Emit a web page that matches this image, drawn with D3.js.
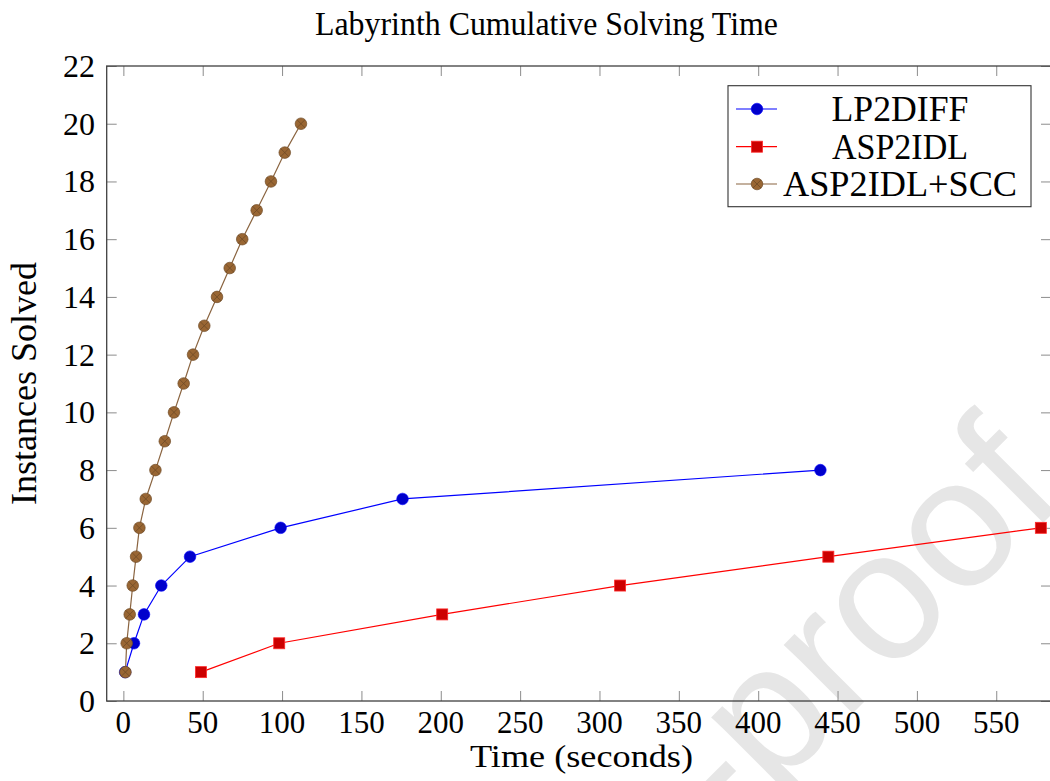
<!DOCTYPE html>
<html>
<head>
<meta charset="utf-8">
<script src="https://cdn.jsdelivr.net/npm/d3@7"></script>
<style>
  html, body { margin: 0; padding: 0; background: #fff; }
  svg { display: block; }
  text { font-family: "Liberation Serif", "DejaVu Serif", serif; fill: #000; }
</style>
</head>
<body>
<div id="chart"></div>
<script>
// ---------------- data ----------------
const title = "Labyrinth Cumulative Solving Time";
const xLabel = "Time (seconds)";
const yLabel = "Instances Solved";
const xTicks = [0, 50, 100, 150, 200, 250, 300, 350, 400, 450, 500, 550];
const yTicks = [0, 2, 4, 6, 8, 10, 12, 14, 16, 18, 20, 22];
const xDomain = [-10.5, 584.5];
const yDomain = [0, 22];

const seriesNames = ["LP2DIFF", "ASP2IDL", "ASP2IDL+SCC"];
const lp2diffTime = [1.1, 6.7, 13.0, 23.9, 42.0, 99.1, 175.9, 439.2];
const lp2diffSolved = [1, 2, 3, 4, 5, 6, 7, 8];
const asp2idlTime = [48.9, 98.2, 200.9, 313.0, 444.2, 578.1];
const asp2idlSolved = [1, 2, 3, 4, 5, 6];
const sccTime = [1.3, 2.1, 4.0, 5.9, 8.0, 10.1, 14.1, 20.2, 26.1, 31.9,
                 38.0, 43.9, 51.0, 59.0, 67.0, 74.9, 84.0, 93.0, 101.7, 111.9];
const sccSolved = [1, 2, 3, 4, 5, 6, 7, 8, 9, 10, 11, 12, 13, 14, 15, 16, 17, 18, 19, 20];
const watermark = "Journal Pre-proof";

// ---------------- layout ----------------
const W = 1050, H = 781;
const plot = { left: 106.7, right: 1051, top: 66, bottom: 701 };

const svg = d3.select("#chart").append("svg")
  .attr("width", W).attr("height", H);

// watermark (behind everything)
{
  const ex = 1068, ey = 498;
  svg.append("text")
    .attr("transform", `translate(${ex},${ey}) rotate(-45)`)
    .attr("text-anchor", "end")
    .style("font-family", "'Liberation Sans', Arial, sans-serif")
    .style("font-size", "184px")
    .style("fill", "#e6e6e6")
    .text(watermark);
}

const x = d3.scaleLinear().domain(xDomain).range([plot.left, plot.right]);
const y = d3.scaleLinear().domain(yDomain).range([plot.bottom, plot.top]);

// axes (ticks inside, on all sides)
const tickLen = 10;
const axisG = svg.append("g");
const bottomAxis = d3.axisBottom(x).tickValues(xTicks).tickSize(-tickLen).tickFormat("");
const topAxis = d3.axisTop(x).tickValues(xTicks).tickSize(-tickLen).tickFormat("");
const leftAxis = d3.axisLeft(y).tickValues(yTicks).tickSize(-tickLen).tickFormat("");
const rightAxis = d3.axisRight(y).tickValues(yTicks).tickSize(-tickLen).tickFormat("");

function styleAxis(g) {
  g.select(".domain").remove();
  g.selectAll(".tick line").attr("stroke", "#8c8c8c").attr("stroke-width", 1);
}
axisG.append("g").attr("transform", `translate(0,${plot.bottom})`).call(bottomAxis).call(styleAxis);
axisG.append("g").attr("transform", `translate(0,${plot.top})`).call(topAxis).call(styleAxis);
axisG.append("g").attr("transform", `translate(${plot.left},0)`).call(leftAxis).call(styleAxis);
axisG.append("g").attr("transform", `translate(${plot.right},0)`).call(rightAxis).call(styleAxis);

// frame
svg.append("rect")
  .attr("x", plot.left).attr("y", plot.top)
  .attr("width", plot.right - plot.left).attr("height", plot.bottom - plot.top)
  .attr("fill", "none").attr("stroke", "#404040").attr("stroke-width", 1.3);

// tick labels
svg.append("g").selectAll("text").data(xTicks).join("text")
  .attr("x", d => x(d)).attr("y", 733)
  .attr("text-anchor", "middle")
  .style("font-size", "31px")
  .text(d => d);
svg.append("g").selectAll("text").data(yTicks).join("text")
  .attr("x", 95).attr("y", d => y(d) + 11)
  .attr("text-anchor", "end")
  .style("font-size", "32px")
  .text(d => d);

// title and axis labels
svg.append("text")
  .attr("x", 546.5).attr("y", 35)
  .attr("text-anchor", "middle")
  .style("font-size", "34px")
  .attr("textLength", 463).attr("lengthAdjust", "spacingAndGlyphs")
  .text(title);
svg.append("text")
  .attr("x", 581.5).attr("y", 767)
  .attr("text-anchor", "middle")
  .style("font-size", "32px")
  .attr("textLength", 223).attr("lengthAdjust", "spacingAndGlyphs")
  .text(xLabel);
svg.append("text")
  .attr("transform", `translate(36,${(plot.top + plot.bottom) / 2}) rotate(-90)`)
  .attr("text-anchor", "middle")
  .style("font-size", "35px")
  .attr("textLength", 243).attr("lengthAdjust", "spacingAndGlyphs")
  .text(yLabel);

// series
const series = [
  { name: seriesNames[0], xs: lp2diffTime, ys: lp2diffSolved, line: "#0000ff", fill: "#0000cc", stroke: "#0000ff", mark: "circle" },
  { name: seriesNames[1], xs: asp2idlTime, ys: asp2idlSolved, line: "#ff0000", fill: "#cc0000", stroke: "#ff2a2a", mark: "square" },
  { name: seriesNames[2], xs: sccTime, ys: sccSolved, line: "#8a6440", fill: "#996633", stroke: "#6e4a26", mark: "otimes" }
];

const lineGen = d3.line().x(d => x(d[0])).y(d => y(d[1]));

function drawMark(g, mark, cx, cy, s) {
  if (mark === "circle") {
    g.append("circle").attr("cx", cx).attr("cy", cy).attr("r", 5.8)
      .attr("fill", s.fill).attr("stroke", s.stroke).attr("stroke-width", 0.6);
  } else if (mark === "square") {
    const h = 5.5;
    g.append("rect").attr("x", cx - h).attr("y", cy - h).attr("width", 2 * h).attr("height", 2 * h)
      .attr("fill", s.fill).attr("stroke", s.stroke).attr("stroke-width", 0.8);
  } else {
    const r = 5.8;
    g.append("circle").attr("cx", cx).attr("cy", cy).attr("r", r)
      .attr("fill", s.fill).attr("stroke", s.stroke).attr("stroke-width", 0.7);
    const k = r * 0.707;
    g.append("path")
      .attr("d", `M${cx - k},${cy - k}L${cx + k},${cy + k}M${cx - k},${cy + k}L${cx + k},${cy - k}`)
      .attr("stroke", s.stroke).attr("stroke-width", 0.8).attr("fill", "none");
  }
}

const seriesG = svg.append("g");
series.forEach(s => {
  const pts = s.xs.map((v, i) => [v, s.ys[i]]);
  seriesG.append("path").datum(pts)
    .attr("d", lineGen)
    .attr("fill", "none").attr("stroke", s.line).attr("stroke-width", 1.2);
  const mg = seriesG.append("g");
  pts.forEach(p => drawMark(mg, s.mark, x(p[0]), y(p[1]), s));
});

// legend
const lg = svg.append("g");
lg.append("rect")
  .attr("x", 728).attr("y", 85.7).attr("width", 303).attr("height", 121)
  .attr("fill", "#fff").attr("stroke", "#333").attr("stroke-width", 1.1);
const legendY = [109, 146.7, 184];
const legendW = [137, 136, 234];
series.forEach((s, i) => {
  const cy = legendY[i];
  lg.append("line").attr("x1", 736).attr("x2", 777).attr("y1", cy).attr("y2", cy)
    .attr("stroke", s.line).attr("stroke-width", 1.2);
  drawMark(lg, s.mark, 757, cy, s);
  lg.append("text")
    .attr("x", 900).attr("y", cy + 11.8)
    .attr("text-anchor", "middle")
    .style("font-size", "35px")
    .attr("textLength", legendW[i]).attr("lengthAdjust", "spacingAndGlyphs")
    .text(s.name);
});
</script>
</body>
</html>
